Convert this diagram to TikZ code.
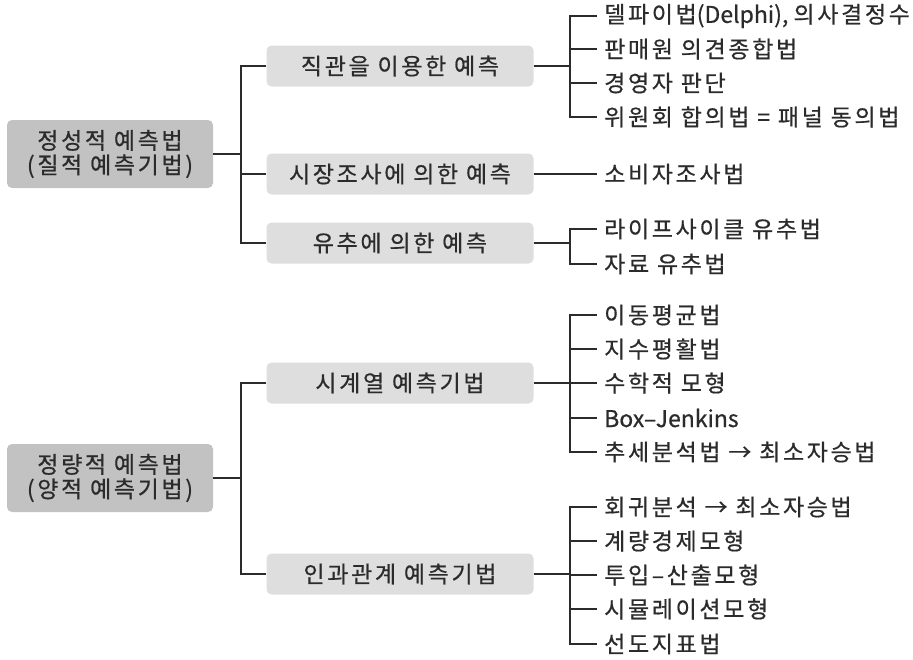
\documentclass[tikz,border=0pt]{standalone}
\usepackage{fontspec}
\newfontfamily\kr{Noto Sans CJK KR}[LetterSpace=11.5, FakeBold=0.6]
\newfontfamily\krlatin{Noto Sans CJK KR}[LetterSpace=0, FakeBold=0.6]
\usetikzlibrary{calc}
\definecolor{rootgray}{HTML}{C2C2C2}
\definecolor{midgray}{HTML}{DEDEDE}
\definecolor{ink}{HTML}{2B2B2B}

\begin{document}
\begin{tikzpicture}[x=1pt,y=-1pt,
    root/.style={fill=rootgray, rounded corners=5pt, minimum width=206pt, minimum height=68pt,
        align=center, text=ink, font=\kr\fontsize{23}{24.5}\selectfont},
    mid/.style={fill=midgray, rounded corners=5pt, minimum width=267pt, minimum height=41pt,
        text=ink, font=\kr\fontsize{23}{24}\selectfont},
    leaf/.style={anchor=west, inner xsep=7pt, inner ysep=1pt, text=ink, font=\kr\fontsize{23}{24}\selectfont},
    link/.style={draw=ink, line width=1.8pt}]
    \useasboundingbox (0,0) rectangle (913,659);

    % root boxes
        \node[root] (quali) at (110,154) {정성적 예측법\\(질적 예측기법)};
        \node[root] (quant) at (110,478) {정량적 예측법\\(양적 예측기법)};

    % second level
        \node[mid] (intu) at (400,66) {직관을 이용한 예측};
        \node[mid] (survey) at (400,174) {시장조사에 의한 예측};
        \node[mid] (analog) at (400,243) {유추에 의한 예측};
        \node[mid] (series) at (400,383) {시계열 예측기법};
        \node[mid] (causal) at (400,574) {인과관계 예측기법};

    % leaves
    \foreach \y/\t [count=\i] in {16/{델파이법{\krlatin(Delphi), }의사결정수}, 49/판매원 의견종합법,
            83/경영자 판단, 117/위원회 합의법 = 패널 동의법}
        \node[leaf] (intu-\i) at (597,\y) {\t};
    \node[leaf] (survey-1) at (597,174) {소비자조사법};
    \foreach \y/\t [count=\i] in {229/라이프사이클 유추법, 264/자료 유추법}
        \node[leaf] (analog-\i) at (597,\y) {\t};
    \foreach \y/\t [count=\i] in {315/이동평균법, 349/지수평활법, 383/수학적 모형,
            418/{\krlatin Box–Jenkins}, 452/추세분석법 → 최소자승법}
        \node[leaf] (series-\i) at (597,\y) {\t};
    \foreach \y/\t [count=\i] in {507/회귀분석 → 최소자승법, 541/계량경제모형, 575/투입–산출모형,
            609/시뮬레이션모형, 644/선도지표법}
        \node[leaf] (causal-\i) at (597,\y) {\t};

    % joints
        \coordinate (jquali) at (241,154);
        \coordinate (jquant) at (241,478);
        \coordinate (jintu) at (570,66);
        \coordinate (janalog) at (570,243);
        \coordinate (jseries) at (570,383);
        \coordinate (jcausal) at (570,574);

    % root brackets
    \draw[link] (quali.east) -- (jquali);
    \draw[link] (intu.west) -| (jquali) |- (analog.west);
    \draw[link] (survey.west -| jquali) -- (survey.west);
    \draw[link] (quant.east) -- (jquant);
    \draw[link] (series.west) -| (jquant) |- (causal.west);

    % leaf brackets
    \draw[link] (survey.east) -- (survey-1.west);
    \draw[link] (intu.east) -- (jintu);
    \draw[link] (intu-1.west) -| (jintu) |- (intu-4.west);
    \foreach \i in {2,3}
        \draw[link] (intu-\i.west -| jintu) -- (intu-\i.west);
    \draw[link] (analog.east) -- (janalog);
    \draw[link] (analog-1.west) -| (janalog) |- (analog-2.west);
    \draw[link] (series.east) -- (jseries);
    \draw[link] (series-1.west) -| (jseries) |- (series-5.west);
    \foreach \i in {2,3,4}
        \draw[link] (series-\i.west -| jseries) -- (series-\i.west);
    \draw[link] (causal.east) -- (jcausal);
    \draw[link] (causal-1.west) -| (jcausal) |- (causal-5.west);
    \foreach \i in {2,3,4}
        \draw[link] (causal-\i.west -| jcausal) -- (causal-\i.west);

\end{tikzpicture}
\end{document}
